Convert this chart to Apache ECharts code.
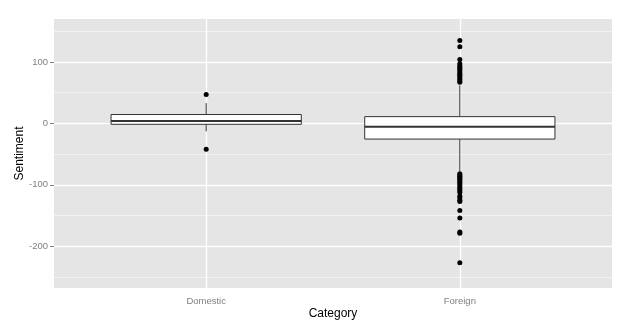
<!DOCTYPE html>
<html><head><meta charset="utf-8">
<script src="https://cdn.jsdelivr.net/npm/echarts@6/dist/echarts.min.js"></script>
<style>html,body{margin:0;padding:0;background:#fff}#c{width:632px;height:331px}</style>
</head><body><div id="c"></div>
<script>
var categories = ['Domestic', 'Foreign'];
// [lower whisker, Q1, median, Q3, upper whisker]
var boxStats = [
  [-13, -1.5, 4, 14.5, 33],
  [-78, -25.5, -5.5, 11, 62]
];
var domesticOutliers = [47, -42];
var foreignOutliers = [135, 125, 104, 97, 94, 91, 89, 86, 83, 80, 78, 75, 72, 69, 67,
  -82, -84, -86, -88, -90, -92, -95, -97, -100, -103, -106, -109, -112, -118, -121, -125, -127,
  -142, -154, -177, -179, -227];
var yTickLabels = [-200, -100, 0, 100];
var yMinorLines = [-250, -150, -50, 50, 150];

var boxData = boxStats.map(function (s, i) { return [i + 1].concat(s); });
var outlierData = [];
domesticOutliers.forEach(function (v) { outlierData.push([1, v]); });
foreignOutliers.forEach(function (v) { outlierData.push([2, v]); });

var halfW = 0.375;
function renderBox(params, api) {
  var x = api.value(0), lo = api.value(1), q1 = api.value(2), md = api.value(3), q3 = api.value(4), hi = api.value(5);
  var pTL = api.coord([x - halfW, q3]);
  var pBR = api.coord([x + halfW, q1]);
  var pMdL = api.coord([x - halfW, md]);
  var pMdR = api.coord([x + halfW, md]);
  var pHi = api.coord([x, hi]);
  var pQ3 = api.coord([x, q3]);
  var pQ1 = api.coord([x, q1]);
  var pLo = api.coord([x, lo]);
  var stroke = '#333333';
  return {
    type: 'group',
    children: [
      { type: 'line', shape: { x1: pHi[0], y1: pHi[1], x2: pQ3[0], y2: pQ3[1] }, style: { stroke: stroke, lineWidth: 1 } },
      { type: 'line', shape: { x1: pQ1[0], y1: pQ1[1], x2: pLo[0], y2: pLo[1] }, style: { stroke: stroke, lineWidth: 1 } },
      { type: 'rect', shape: { x: pTL[0], y: pTL[1], width: pBR[0] - pTL[0], height: pBR[1] - pTL[1] }, style: { fill: '#fff', stroke: stroke, lineWidth: 1 } },
      { type: 'line', shape: { x1: pMdL[0], y1: pMdL[1], x2: pMdR[0], y2: pMdR[1] }, style: { stroke: stroke, lineWidth: 2 } }
    ]
  };
}

var chart = echarts.init(document.getElementById('c'), null, { renderer: 'canvas' });
var gridLines = [];
yMinorLines.forEach(function (v) { gridLines.push({ yAxis: v, lineStyle: { color: '#F2F2F2', width: 1, type: 'solid' } }); });
yTickLabels.forEach(function (v) { gridLines.push({ yAxis: v, lineStyle: { color: '#FFFFFF', width: 1.3, type: 'solid' } }); });
categories.forEach(function (c, i) { gridLines.push({ xAxis: i + 1, lineStyle: { color: '#FFFFFF', width: 1.3, type: 'solid' } }); });

chart.setOption({
  animation: false,
  grid: { left: 54, right: 20, top: 19, bottom: 43, show: true, backgroundColor: '#E5E5E5', borderWidth: 0, containLabel: false, outerBoundsMode: 'none' },
  xAxis: {
    type: 'value', min: 0.4, max: 2.6,
    name: 'Category', nameLocation: 'middle', nameGap: 20, nameMoveOverlap: false,
    nameTextStyle: { color: '#000', fontSize: 12, fontFamily: 'Liberation Sans' },
    axisLine: { show: false },
    axisTick: { show: true, length: 4, lineStyle: { color: '#7F7F7F' }, customValues: [1, 2] },
    axisLabel: { customValues: [1, 2], color: '#7F7F7F', fontSize: 9.5, fontFamily: 'Liberation Sans', margin: 8,
      formatter: function (v) { return categories[Math.round(v) - 1] || ''; } },
    splitLine: { show: false }
  },
  yAxis: {
    type: 'value', min: -268, max: 170,
    name: 'Sentiment', nameLocation: 'middle', nameGap: 28, nameRotate: 90, nameMoveOverlap: false,
    nameTextStyle: { color: '#000', fontSize: 12, fontFamily: 'Liberation Sans' },
    axisLine: { show: false },
    axisTick: { show: true, length: 4, lineStyle: { color: '#7F7F7F' }, customValues: yTickLabels },
    axisLabel: { customValues: yTickLabels, color: '#7F7F7F', fontSize: 9.5, fontFamily: 'Liberation Sans', margin: 6 },
    splitLine: { show: false }
  },
  series: [
    {
      type: 'custom', renderItem: renderBox, data: boxData, encode: { x: 0, y: [1, 2, 3, 4, 5] }, z: 3,
      markLine: { silent: true, symbol: 'none', label: { show: false }, data: gridLines, z: 1, animation: false }
    },
    {
      type: 'scatter', data: outlierData, symbol: 'circle', symbolSize: 5,
      itemStyle: { color: '#000', opacity: 1 }, z: 4
    }
  ]
});
</script></body></html>
